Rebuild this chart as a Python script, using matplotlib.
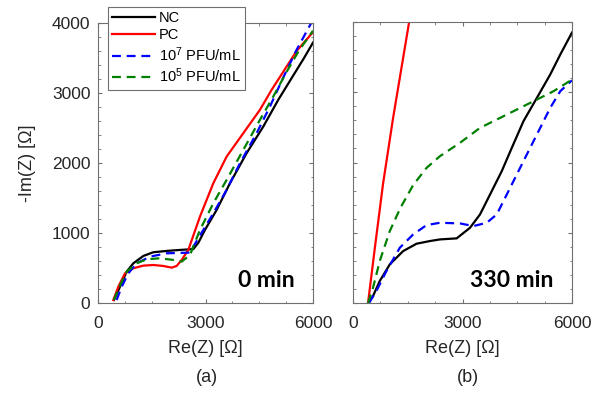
import matplotlib
matplotlib.use("Agg")
import matplotlib.pyplot as plt
from matplotlib.ticker import MultipleLocator

plt.rcParams['font.family'] = ['Liberation Sans', 'DejaVu Sans']
plt.rcParams['mathtext.fontset'] = 'custom'
plt.rcParams['mathtext.rm'] = 'Liberation Sans'
plt.rcParams['mathtext.it'] = 'Liberation Sans:italic'

labels = ['NC', 'PC', r'10$^{7}$ PFU/mL', r'10$^{5}$ PFU/mL']
colors = ['black', '#ff0000', '#0000ff', '#008000']
styles = ['-', '-', '--', '--']

# Panel (a): 0 min
a_nc_x = [446, 614, 800, 986, 1265, 1544, 1916, 2288, 2660, 2800, 2985, 3311, 3683, 4148, 4613, 5031, 5400, 5750, 6000]
a_nc_y = [43, 233, 448, 567, 672, 725, 744, 758, 770, 860, 1044, 1330, 1711, 2141, 2521, 2903, 3210, 3500, 3720]
a_pc_x = [428, 567, 753, 986, 1265, 1544, 1823, 2056, 2195, 2335, 2520, 2846, 3218, 3590, 4055, 4520, 4846, 5078, 5543, 6000]
a_pc_y = [43, 233, 424, 496, 534, 543, 529, 505, 529, 615, 758, 1235, 1711, 2092, 2426, 2760, 3046, 3230, 3600, 3870]
a_e7_x = [521, 661, 846, 1079, 1451, 1916, 2567, 2660, 2939, 3218, 3590, 3962, 4427, 4799, 5150, 5543, 5950]
a_e7_y = [43, 233, 424, 567, 662, 710, 720, 805, 1044, 1282, 1616, 1997, 2426, 2807, 3200, 3618, 4000]
a_e5_x = [446, 595, 800, 1079, 1358, 1730, 2102, 2335, 2567, 2846, 3218, 3590, 4055, 4520, 4892, 5250, 5600, 6000]
a_e5_y = [43, 233, 448, 567, 624, 639, 615, 591, 686, 1044, 1425, 1759, 2188, 2617, 2950, 3290, 3600, 3890]

# Panel (b): 330 min
b_nc_x = [412, 549, 733, 1008, 1374, 1741, 2107, 2382, 2840, 3206, 3480, 3755, 4076, 4351, 4670, 5038, 5403, 5678, 6000]
b_nc_y = [0, 100, 313, 550, 739, 844, 882, 905, 920, 1071, 1261, 1545, 1877, 2209, 2588, 2920, 3252, 3536, 3850]
b_pc_x = [412, 600, 824, 1099, 1328, 1538]
b_pc_y = [0, 790, 1700, 2635, 3347, 4000]
b_e7_x = [440, 641, 916, 1283, 1648, 2016, 2382, 2931, 3297, 3664, 3939, 4214, 4533, 4854, 5129, 5403, 5678, 6000]
b_e7_y = [0, 171, 455, 787, 976, 1109, 1142, 1133, 1095, 1142, 1261, 1545, 1877, 2209, 2493, 2777, 3015, 3170]
b_e5_x = [412, 549, 733, 1008, 1300, 1650, 2016, 2382, 2931, 3480, 4030, 4579, 5038, 5494, 6000]
b_e5_y = [0, 218, 597, 1024, 1355, 1680, 1924, 2090, 2280, 2493, 2635, 2777, 2896, 3015, 3180]

panel_a = [(a_nc_x, a_nc_y), (a_pc_x, a_pc_y), (a_e7_x, a_e7_y), (a_e5_x, a_e5_y)]
panel_b = [(b_nc_x, b_nc_y), (b_pc_x, b_pc_y), (b_e7_x, b_e7_y), (b_e5_x, b_e5_y)]

W, H = 603, 396
fig = plt.figure(figsize=(W / 100, H / 100), dpi=100)

def rect(l, t, r, b):
    return [l / W, 1 - b / H, (r - l) / W, (b - t) / H]

axa = fig.add_axes(rect(98, 23, 313, 303))
axb = fig.add_axes(rect(353, 22, 572, 303))

edge = '#707070'
txt = '#262626'
handles = []
for ax, data in ((axa, panel_a), (axb, panel_b)):
    for (x, y), c, ls, lab in zip(data, colors, styles, labels):
        kw = dict(color=c, lw=1.6, label=lab, solid_joinstyle='round')
        if ls == '--':
            kw['dashes'] = (4, 2.6)
        ln, = ax.plot(x, y, **kw)
        if ax is axa:
            handles.append(ln)
    ax.set_xlim(0, 6000)
    ax.set_ylim(0, 4000)
    ax.set_xticks([0, 3000, 6000])
    ax.set_yticks([0, 1000, 2000, 3000, 4000])
    ax.xaxis.set_minor_locator(MultipleLocator(750))
    ax.yaxis.set_minor_locator(MultipleLocator(200))
    ax.tick_params(which='both', direction='in', top=True, right=True,
                   color=edge, labelsize=12.5, labelcolor=txt)
    ax.tick_params(which='major', length=3)
    ax.tick_params(which='minor', length=1.8)
    ax.tick_params(axis='x', which='major', pad=9)
    ax.tick_params(axis='y', which='major', pad=5.5)
    for s in ax.spines.values():
        s.set_color(edge)
        s.set_linewidth(0.8)
    ax.set_xlabel('Re(Z) [Ω]', fontsize=13, color=txt, labelpad=7)

axb.tick_params(labelleft=False)
axa.set_ylabel('-Im(Z) [Ω]', fontsize=13, color=txt, labelpad=11)

for text, (px, py) in (('0 min', (295, 287)), ('330 min', (553, 287))):
    fig.text(px / W, 1 - py / H, text, ha='right', va='baseline',
             fontsize=16.5, fontweight='bold', family=['Lato', 'DejaVu Sans'])

fig.text(207 / W, 1 - 378 / H, '(a)', ha='center', va='center', fontsize=13, color=txt)
fig.text(468 / W, 1 - 378 / H, '(b)', ha='center', va='center', fontsize=13, color=txt)

leg = fig.legend(handles=handles, loc='upper left',
                 bbox_to_anchor=(108 / W, 1 - 7 / H), fontsize=10.5,
                 handlelength=2.9, handletextpad=0.3, labelspacing=0.2,
                 borderpad=0.3, borderaxespad=0, fancybox=False, framealpha=1)
leg.get_frame().set_edgecolor(edge)
leg.get_frame().set_linewidth(0.8)

fig.savefig('out.png', dpi=100)
